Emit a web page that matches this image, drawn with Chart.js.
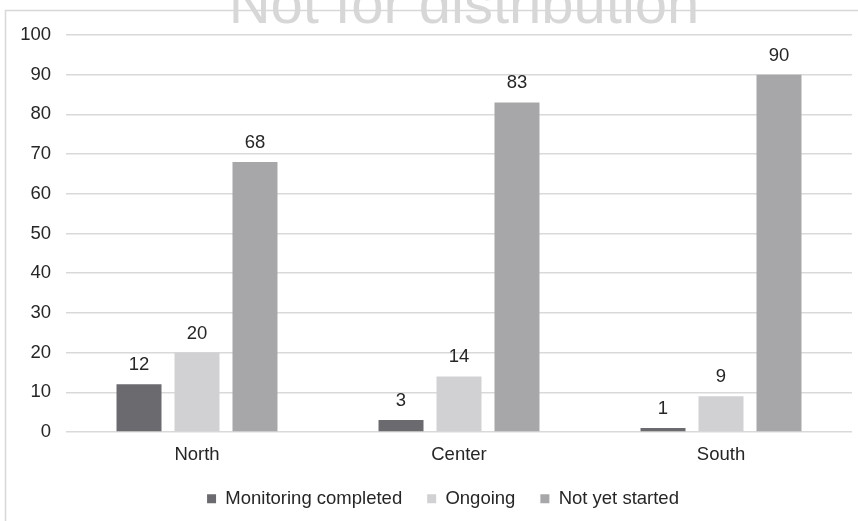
<!DOCTYPE html>
<html>
<head>
<meta charset="utf-8">
<script src="https://cdn.jsdelivr.net/npm/chart.js@4/dist/chart.umd.min.js"></script>
<style>
  html, body { margin: 0; padding: 0; background: #fff; }
  #wrap { width: 858px; height: 521px; position: relative; }
</style>
</head>
<body>
<div id="wrap"><canvas id="c" width="858" height="521"></canvas></div>
<script>
// Monitoring status by region (%)
const regions = ['North', 'Center', 'South'];
const monitoringCompleted = [12, 3, 1];
const ongoing = [20, 14, 9];
const notYetStarted = [68, 83, 90];
const seriesNames = ['Monitoring completed', 'Ongoing', 'Not yet started'];
const yTicks = [0, 10, 20, 30, 40, 50, 60, 70, 80, 90, 100];

const FONT = '"Liberation Sans", Arial, Helvetica, sans-serif';
const TEXT = '#262626';
const GRID = '#d9d9d9';

// Thin frame along the left and top edges, plus the faint header text
const framePlugin = {
  id: 'frame',
  beforeDraw(chart) {
    const ctx = chart.ctx;
    ctx.save();
    ctx.fillStyle = '#ffffff';
    ctx.fillRect(0, 0, chart.width, chart.height);
    ctx.strokeStyle = '#d8d8d8';
    ctx.lineWidth = 1.5;
    ctx.beginPath();
    ctx.moveTo(5.5, chart.height);
    ctx.lineTo(5.5, 10.5);
    ctx.lineTo(chart.width, 10.5);
    ctx.stroke();
    ctx.fillStyle = '#d7d7d7';
    ctx.font = '58px ' + FONT;
    ctx.textAlign = 'center';
    ctx.textBaseline = 'alphabetic';
    ctx.fillText('Not for distribution', 464, 23);
    ctx.restore();
  }
};

// Value printed above each bar
const valueLabels = {
  id: 'valueLabels',
  afterDatasetsDraw(chart) {
    const ctx = chart.ctx;
    ctx.save();
    ctx.fillStyle = TEXT;
    ctx.font = '18.5px ' + FONT;
    ctx.textAlign = 'center';
    ctx.textBaseline = 'alphabetic';
    chart.data.datasets.forEach((ds, i) => {
      chart.getDatasetMeta(i).data.forEach((bar, j) => {
        ctx.fillText(String(ds.data[j]), bar.x, bar.y - 14);
      });
    });
    ctx.restore();
  }
};

// Nudge the legend row a little to the right
const legendShift = {
  id: 'legendShift',
  afterLayout(chart) {
    const lg = chart.legend;
    if (lg) { lg.left += 17; lg.right += 17; }
  }
};

new Chart(document.getElementById('c'), {
  type: 'bar',
  data: {
    labels: regions,
    datasets: [
      { label: seriesNames[0], data: monitoringCompleted, backgroundColor: '#6b6b6f', borderWidth: 0 },
      { label: seriesNames[1], data: ongoing, backgroundColor: '#d1d1d3', borderWidth: 0 },
      { label: seriesNames[2], data: notYetStarted, backgroundColor: '#a7a7aa', borderWidth: 0 }
    ]
  },
  options: {
    responsive: false,
    animation: false,
    devicePixelRatio: 1,
    layout: { padding: { left: 0, right: 6, top: 35, bottom: 3 } },
    datasets: { bar: { categoryPercentage: 0.664, barPercentage: 0.776 } },
    plugins: {
      tooltip: { enabled: false },
      legend: {
        position: 'bottom',
        labels: {
          color: TEXT,
          font: { family: FONT, size: 18.5 },
          boxWidth: 9,
          boxHeight: 9,
          padding: 25
        }
      }
    },
    scales: {
      x: {
        grid: { display: false, drawTicks: false },
        border: { display: false },
        ticks: { color: TEXT, font: { family: FONT, size: 18.5 }, padding: 12 },
        afterFit(scale) { scale.height = 32.5; }
      },
      y: {
        min: 0,
        max: 100,
        afterBuildTicks(scale) { scale.ticks = yTicks.map(v => ({ value: v })); },
        grid: { color: GRID, lineWidth: 1.5, drawTicks: false },
        border: { display: false },
        ticks: { color: TEXT, font: { family: FONT, size: 18.5 }, padding: 15 },
        afterFit(scale) { scale.width = 66; }
      }
    }
  },
  plugins: [framePlugin, valueLabels, legendShift]
});
</script>
</body>
</html>
